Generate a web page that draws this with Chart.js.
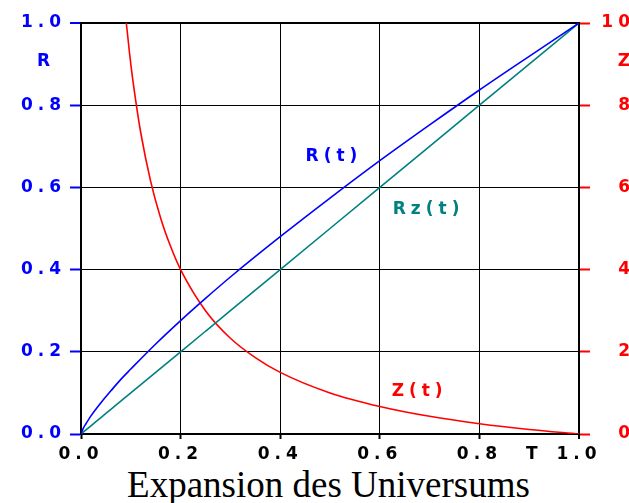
<!DOCTYPE html>
<html>
<head>
<meta charset="utf-8">
<script src="https://cdn.jsdelivr.net/npm/chart.js@4.4.1/dist/chart.umd.min.js"></script>
<style>
  body { margin: 0; background: #fff; overflow: hidden; }
  #wrap { position: relative; width: 629px; height: 463px; }
  #title {
    position: absolute; left: 14px; top: 468px; width: 629px; text-align: center;
    font-family: "Liberation Serif", "DejaVu Serif", serif; font-size: 37px; line-height: 34px; color: #000;
    white-space: nowrap;
  }
</style>
</head>
<body>
<div id="wrap"><canvas id="chart"></canvas></div>
<div id="title">Expansion des Universums</div>
<script>
// values
const tValues = [0, 0.005, 0.01, 0.02, 0.04, 0.06, 0.08, 0.1, 0.15, 0.2, 0.25, 0.3, 0.4, 0.5, 0.6, 0.7, 0.8, 0.9, 1.0]
const rValues = [0, 0.015, 0.025, 0.044, 0.076, 0.105, 0.133, 0.158, 0.219, 0.276, 0.33, 0.382, 0.48, 0.574, 0.665, 0.752, 0.837, 0.919, 1.0]
const rzValues = [0, 0.005, 0.01, 0.02, 0.04, 0.06, 0.08, 0.1, 0.15, 0.2, 0.25, 0.3, 0.4, 0.5, 0.6, 0.7, 0.8, 0.9, 1.0]

const tzValues = [0.091, 0.1, 0.11, 0.12, 0.14, 0.16, 0.18, 0.2, 0.25, 0.3, 0.35, 0.4, 0.5, 0.6, 0.7, 0.8, 0.9, 1.0]
const zValues = [10, 9, 8.1, 7.33, 6.14, 5.25, 4.56, 4, 3, 2.33, 1.86, 1.5, 1, 0.67, 0.43, 0.25, 0.11, 0]

const xTicks = [0, 0.2, 0.4, 0.6, 0.8, 0.91, 1.0]
const rTicks = [0, 0.2, 0.4, 0.6, 0.8, 0.905, 1.0]
const zTicks = [0, 2, 4, 6, 8, 9.05, 10]
const xTitle = "T"
const rTitle = "R"
const zTitle = "Z"

const curveLabels = [
  { text: "R(t)", t: 0.508, v: 0.676, axis: "yR", color: "#0000ff" },
  { text: "Rz(t)", t: 0.698, v: 0.545, axis: "yR", color: "#008080" },
  { text: "Z(t)", t: 0.68, v: 1.03, axis: "yZ", color: "#ff0000" }
]

const tickFont = { family: "DejaVu Sans", size: 17, weight: "bold" }
const spacing = "5px"

const pts = (xs, ys) => xs.map((x, i) => ({ x: x, y: ys[i] }))
const clear = "rgba(0,0,0,0)"

// canvas letter spacing gets reset when the canvas is resized, so set it again
const spacingPlugin = {
  id: "spacing",
  beforeLayout(chart) { chart.ctx.letterSpacing = spacing },
  beforeDraw(chart) { chart.ctx.letterSpacing = spacing }
}

const labelPlugin = {
  id: "curveLabels",
  afterDatasetsDraw(chart) {
    const ctx = chart.ctx
    ctx.save()
    ctx.letterSpacing = spacing
    ctx.font = "bold 17px 'DejaVu Sans'"
    ctx.textAlign = "center"
    ctx.textBaseline = "middle"
    curveLabels.forEach(l => {
      ctx.fillStyle = l.color
      ctx.fillText(l.text, chart.scales.x.getPixelForValue(l.t), chart.scales[l.axis].getPixelForValue(l.v))
    })
    ctx.restore()
  }
}

const chart = new Chart(document.getElementById("chart"), {
  type: "line",
  data: {
    datasets: [
      { label: "R(t)", data: pts(tValues, rValues), borderColor: "#0000ff", yAxisID: "yR" },
      { label: "Rz(t)", data: pts(tValues, rzValues), borderColor: "#008080", yAxisID: "yR" },
      { label: "Z(t)", data: pts(tzValues, zValues), borderColor: "#ff0000", yAxisID: "yZ" }
    ]
  },
  options: {
    responsive: true,
    maintainAspectRatio: false,
    animation: false,
    devicePixelRatio: 1,
    layout: { padding: { top: 23, left: 0, right: -6, bottom: 0 } },
    elements: {
      point: { radius: 0 },
      line: { borderWidth: 1.6, cubicInterpolationMode: "monotone", fill: false }
    },
    plugins: { legend: { display: false }, tooltip: { enabled: false }, title: { display: false } },
    scales: {
      x: {
        type: "linear", axis: "x", min: 0, max: 1,
        afterBuildTicks: s => { s.ticks = xTicks.map(v => ({ value: v })) },
        afterFit: s => { s.height = 29 },
        border: { color: "#000", width: 2 },
        grid: {
          color: c => c.tick && c.tick.value === 0.91 ? clear : "#000",
          lineWidth: c => c.tick && c.tick.value === 1 ? 2 : 1,
          tickColor: c => c.tick && c.tick.value === 0.91 ? clear : "#000",
          tickLength: 5, tickWidth: 2
        },
        ticks: {
          autoSkip: false, maxRotation: 0, padding: 5, color: "#000", font: tickFont,
          callback: v => v === 0.91 ? xTitle : v.toFixed(1)
        }
      },
      yR: {
        type: "linear", axis: "y", position: "left", min: 0, max: 1,
        afterBuildTicks: s => { s.ticks = rTicks.map(v => ({ value: v })) },
        afterFit: s => { s.width = 81 },
        border: { color: "#000", width: 2 },
        grid: {
          color: c => c.tick && c.tick.value === 0.905 ? clear : "#000",
          lineWidth: c => c.tick && c.tick.value === 1 ? 2 : 1,
          tickColor: c => c.tick && c.tick.value === 0.905 ? clear : "#0000ff",
          tickLength: 11, tickWidth: 2
        },
        ticks: {
          padding: 4, color: "#0000ff", font: tickFont,
          callback: v => v === 0.905 ? rTitle + " " : v.toFixed(1)
        }
      },
      yZ: {
        type: "linear", axis: "y", position: "right", min: 0, max: 10,
        afterBuildTicks: s => { s.ticks = zTicks.map(v => ({ value: v })) },
        afterFit: s => { s.width = 56 },
        border: { color: "#000", width: 2 },
        grid: {
          drawOnChartArea: false,
          tickColor: c => c.tick && c.tick.value === 9.05 ? clear : "#ff0000",
          tickLength: 11, tickWidth: 2
        },
        ticks: {
          padding: 8, color: "#ff0000", font: tickFont, crossAlign: "far",
          callback: v => v === 9.05 ? zTitle : String(v)
        }
      }
    }
  },
  plugins: [spacingPlugin, labelPlugin]
})
</script>
</body>
</html>
